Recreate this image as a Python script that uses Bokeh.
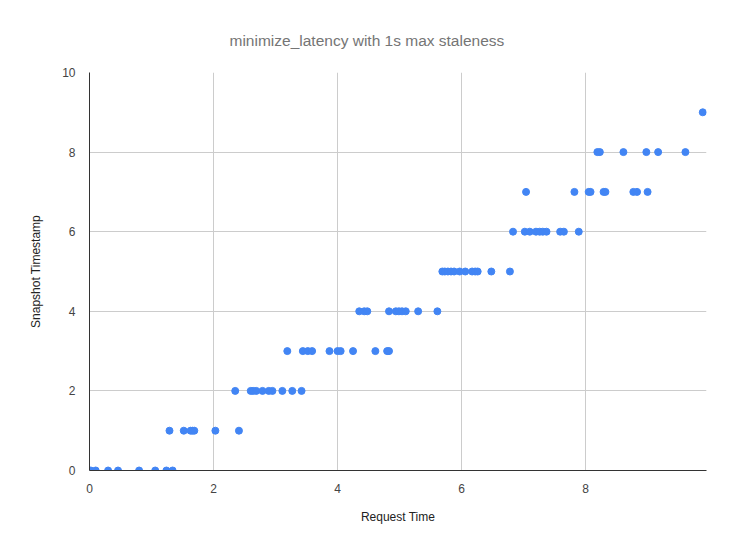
from bokeh.plotting import figure
from bokeh.models import Range1d, FixedTicker
from bokeh.embed import file_html
from bokeh.resources import INLINE

# Data: request time (x) per snapshot timestamp level (y)
t0 = [0.02, 0.1, 0.3, 0.46, 0.8, 1.06, 1.24, 1.34]
t1 = [1.29, 1.52, 1.63, 1.66, 1.69, 2.03, 2.41]
t2 = [2.35, 2.6, 2.64, 2.69, 2.79, 2.89, 2.95, 3.11, 3.27, 3.42]
t3 = [3.19, 3.44, 3.52, 3.59, 3.87, 4.0, 4.05, 4.25, 4.61, 4.8, 4.83]
t4 = [4.35, 4.43, 4.48, 4.83, 4.94, 4.99, 5.04, 5.1, 5.3, 5.61]
t5 = [5.69, 5.73, 5.78, 5.83, 5.88, 5.97, 6.06, 6.17, 6.22, 6.26, 6.48, 6.78]
t6 = [6.83, 7.02, 7.1, 7.2, 7.26, 7.31, 7.37, 7.59, 7.65, 7.89]
t7 = [7.04, 7.82, 8.05, 8.08, 8.29, 8.32, 8.77, 8.83, 9.0]
t8 = [8.19, 8.23, 8.61, 8.98, 9.17, 9.61]
t9 = [9.89]
levels = [t0, t1, t2, t3, t4, t5, t6, t7, t8, t9]

xs = []
ys = []
for lvl, times in enumerate(levels):
    xs.extend(times)
    ys.extend([lvl] * len(times))

x_ticks = [0, 2, 4, 6, 8]
y_ticks = [0, 2, 4, 6, 8, 10]
title_text = "minimize_latency with 1s max staleness"
x_title = "Request Time"
y_title = "Snapshot Timestamp"

FONT = "Liberation Sans"

p = figure(width=734, height=550, output_backend="svg", toolbar_location=None,
           x_range=Range1d(0, 9.95), y_range=Range1d(0, 10),
           min_border_left=89, min_border_right=28, min_border_top=72,
           min_border_bottom=80, title=title_text)
p.outline_line_color = None
p.background_fill_color = "white"
p.border_fill_color = "white"

p.title.align = "left"
p.title.offset = 140
p.title.text_font = FONT
p.title.text_font_size = "15.5px"
p.title.text_color = "#757575"
p.title.text_font_style = "normal"
p.title.standoff = 44
p.title.vertical_align = "top"

p.scatter(xs, ys, size=7, color="#4285F4", line_color="#4285F4")

for ax, ticks in ((p.xaxis[0], x_ticks), (p.yaxis[0], y_ticks)):
    ax.ticker = FixedTicker(ticks=ticks)
    ax.major_tick_line_color = None
    ax.minor_tick_line_color = None
    ax.axis_line_color = "#333333"
    ax.major_label_text_font = FONT
    ax.major_label_text_font_size = "12px"
    ax.major_label_text_color = "#444444"
    ax.axis_label_text_font = FONT
    ax.axis_label_text_font_size = "12px"
    ax.axis_label_text_color = "#222222"
    ax.axis_label_text_font_style = "normal"

p.xaxis.axis_label = x_title
p.yaxis.axis_label = y_title
p.xaxis.major_label_standoff = 7
p.yaxis.major_label_standoff = 8
p.xaxis.axis_label_standoff = 14
p.yaxis.axis_label_standoff = 16

p.xgrid.ticker = FixedTicker(ticks=x_ticks)
p.ygrid.ticker = FixedTicker(ticks=y_ticks)
p.grid.grid_line_color = "#cccccc"
p.grid.grid_line_width = 1

open("out.html", "w").write(file_html(p, INLINE))
